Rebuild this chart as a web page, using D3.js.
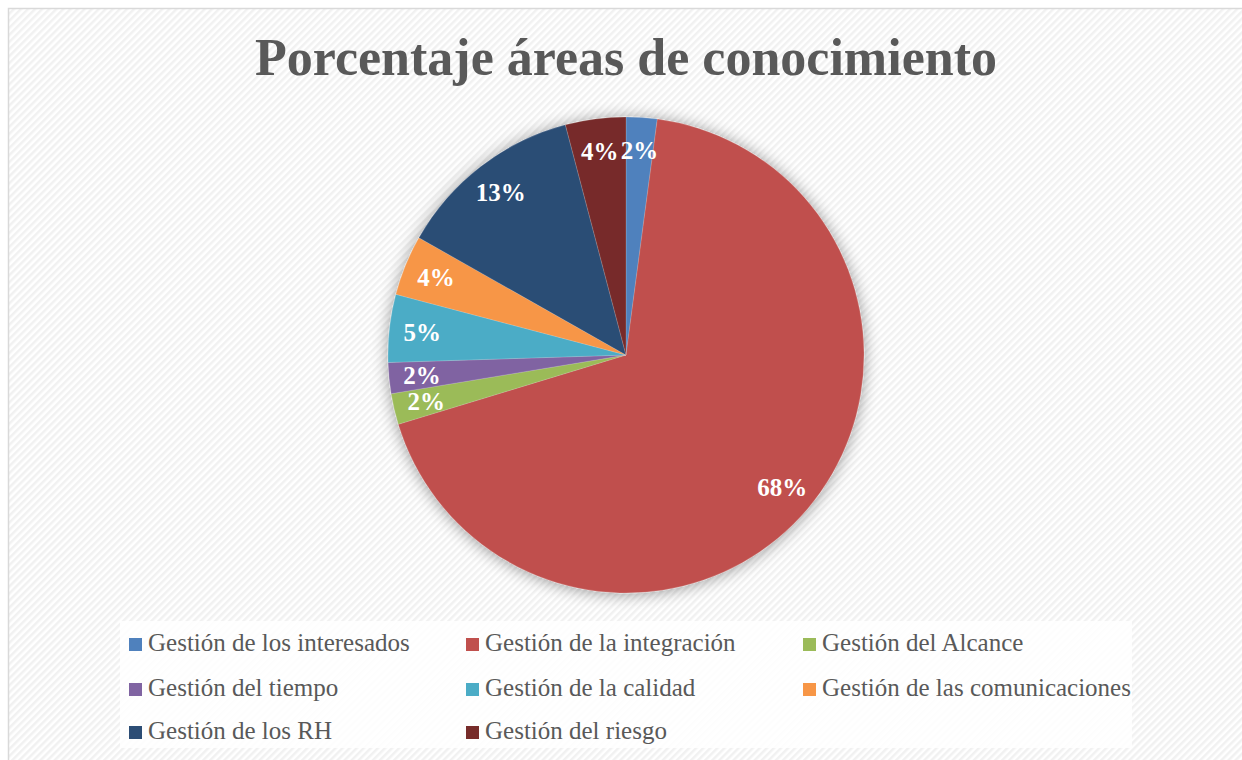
<!DOCTYPE html>
<html>
<head>
<meta charset="utf-8">
<script src="https://cdn.jsdelivr.net/npm/d3@7"></script>
<style>
  html, body { margin: 0; padding: 0; background: #ffffff; }
  svg { display: block; }
</style>
</head>
<body>
<svg id="chart" width="1242" height="760"></svg>
<script>
// ---- data ----
const categories = [
  'Gestión de los interesados',
  'Gestión de la integración',
  'Gestión del Alcance',
  'Gestión del tiempo',
  'Gestión de la calidad',
  'Gestión de las comunicaciones',
  'Gestión de los RH',
  'Gestión del riesgo'
];
const values = [2.1, 68.2, 2.1, 2.1, 4.6, 4.1, 12.7, 4.1];
const colors = ['#4F81BD', '#C0504D', '#9BBB59', '#8064A2', '#4BACC6', '#F79646', '#2C4D75', '#772C2A'];
const title = 'Porcentaje áreas de conocimiento';

// ---- layout ----
const W = 1242, H = 760;
const cx = 626, cy = 355, radius = 238, labelRadius = 205;
const serif = "'Liberation Serif', 'DejaVu Serif', serif";

const svg = d3.select('#chart');
const defs = svg.append('defs');

// diagonal hatch background
const pat = defs.append('pattern')
  .attr('id', 'hatch')
  .attr('width', 5).attr('height', 5)
  .attr('patternUnits', 'userSpaceOnUse')
  .attr('patternTransform', 'rotate(45)');
pat.append('rect').attr('width', 5).attr('height', 5).attr('fill', '#ffffff');
pat.append('rect').attr('width', 2.5).attr('height', 5).attr('fill', '#f1f1f1');

// soft shadow round the pie
const shadow = defs.append('filter')
  .attr('id', 'pie-shadow')
  .attr('x', '-20%').attr('y', '-20%').attr('width', '140%').attr('height', '140%');
shadow.append('feGaussianBlur').attr('in', 'SourceAlpha').attr('stdDeviation', 8).attr('result', 'blur');
shadow.append('feOffset').attr('in', 'blur').attr('dx', 0).attr('dy', 1).attr('result', 'off');
shadow.append('feComponentTransfer').attr('in', 'off').attr('result', 'soft')
  .append('feFuncA').attr('type', 'linear').attr('slope', 0.4);
const merge = shadow.append('feMerge');
merge.append('feMergeNode').attr('in', 'soft');
merge.append('feMergeNode').attr('in', 'SourceGraphic');

// chart area
svg.append('rect')
  .attr('x', 8.5).attr('y', 8.5)
  .attr('width', W + 10).attr('height', H + 10)
  .attr('fill', 'url(#hatch)')
  .attr('stroke', '#d9d9d9')
  .attr('stroke-width', 1.5);

// fit a text element's width to a target by changing its font size
function fitWidth(sel, target) {
  const node = sel.node();
  const fs = parseFloat(sel.attr('font-size'));
  const w = node.getComputedTextLength();
  sel.attr('font-size', (fs * target / w).toFixed(2));
}

// ---- title ----
const titleText = svg.append('text')
  .attr('x', cx).attr('y', 75)
  .attr('text-anchor', 'middle')
  .attr('font-family', serif)
  .attr('font-weight', 'bold')
  .attr('font-size', 48)
  .attr('fill', '#595959')
  .text(title);
fitWidth(titleText, 742);

// ---- pie ----
const total = d3.sum(values);
const pie = d3.pie().sort(null).value(d => d.value);
const arcs = pie(categories.map((c, i) => ({ name: c, value: values[i], color: colors[i] })));
const arc = d3.arc().innerRadius(0).outerRadius(radius);
const labelArc = d3.arc().innerRadius(labelRadius).outerRadius(labelRadius);

const g = svg.append('g').attr('transform', `translate(${cx}, ${cy})`);
g.append('g').attr('filter', 'url(#pie-shadow)')
  .selectAll('path')
  .data(arcs)
  .join('path')
  .attr('d', arc)
  .attr('fill', d => d.data.color)
  .attr('stroke', 'rgba(255,255,255,0.25)')
  .attr('stroke-width', 0.6);

g.selectAll('text.slice-label')
  .data(arcs)
  .join('text')
  .attr('class', 'slice-label')
  .attr('transform', d => `translate(${labelArc.centroid(d)})`)
  .attr('text-anchor', 'middle')
  .attr('dy', '0.35em')
  .attr('font-family', serif)
  .attr('font-weight', 'bold')
  .attr('font-size', 25)
  .attr('fill', '#ffffff')
  .text(d => Math.round(d.data.value / total * 100) + '%');

// ---- legend ----
const legendCols = [129, 466, 803];
const legendRows = [651, 696, 739];
svg.append('rect')
  .attr('x', 120).attr('y', 621)
  .attr('width', 1012).attr('height', 127)
  .attr('fill', '#ffffff')
  .attr('fill-opacity', 0.85);

const items = svg.append('g').selectAll('g')
  .data(categories)
  .join('g')
  .attr('transform', (d, i) => `translate(${legendCols[i % 3]}, ${legendRows[Math.floor(i / 3)]})`);
items.append('rect')
  .attr('x', 0).attr('y', -13)
  .attr('width', 13).attr('height', 13)
  .attr('fill', (d, i) => colors[i]);
const legendText = items.append('text')
  .attr('x', 19).attr('y', 0)
  .attr('font-family', serif)
  .attr('font-size', 22)
  .attr('fill', '#595959')
  .text(d => d);

// scale legend font so the widest entry matches the picture
const widest = d3.max(legendText.nodes(), n => n.getComputedTextLength());
legendText.attr('font-size', (22 * 309 / widest).toFixed(2));
</script>
</body>
</html>
